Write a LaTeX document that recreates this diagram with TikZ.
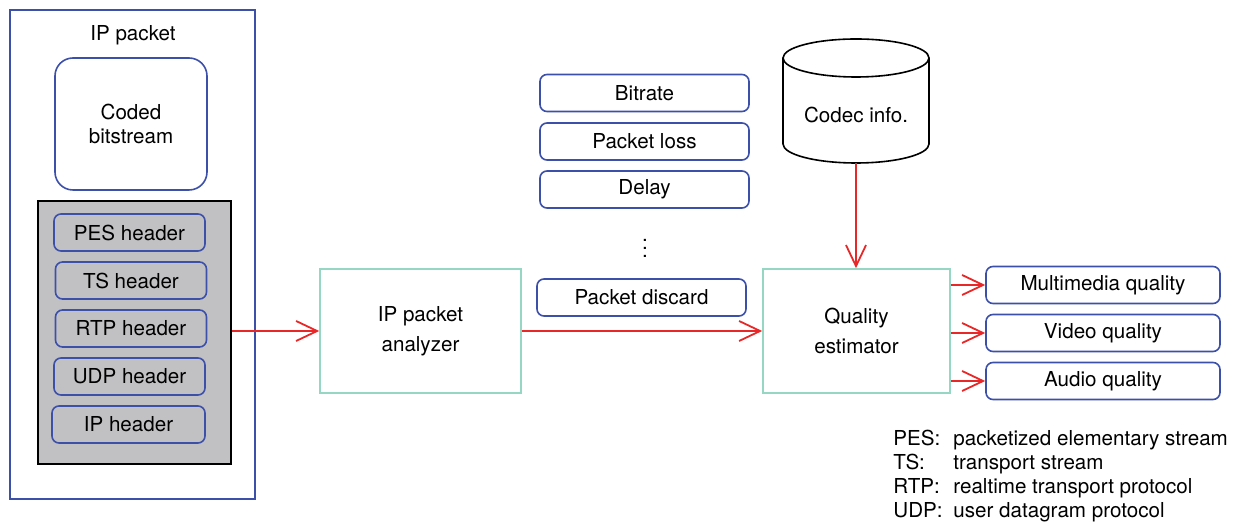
\documentclass[tikz,border=0pt]{standalone}
\usepackage{fontspec}
\setmainfont{TeX Gyre Heros}
\usepackage{tikz}
\usetikzlibrary{arrows.meta}
\definecolor{boxblue}{RGB}{60,80,170}
\definecolor{procgreen}{RGB}{150,215,195}
\definecolor{flowred}{RGB}{232,40,40}
\definecolor{hdrgray}{RGB}{193,193,196}

\begin{document}
\begin{tikzpicture}[x=0.5pt,y=-0.5pt,font=\fontsize{10.3}{12}\selectfont]
					\tikzstyle{param}=[draw=boxblue,line width=0.8pt,rounded corners=3.5pt,minimum height=18.5pt,inner sep=0pt]
					\tikzstyle{proc}=[draw=procgreen,line width=0.8pt,minimum height=62pt,align=center,inner sep=0pt]
					\tikzstyle{flow}=[draw=flowred,line width=0.9pt,-{Straight Barb[length=10.5pt,width=10pt]}]
					\useasboundingbox (0,0) rectangle (1236,522);
					% IP packet
					\node[draw=boxblue,line width=0.8pt,minimum width=122.5pt,minimum height=244.5pt](ippkt) at (132.5,254.5) {};
					\node(ipttl) at (133,35) {IP packet};
					\node[draw=boxblue,line width=0.8pt,rounded corners=9pt,minimum width=76pt,minimum height=66pt,align=center](coded) at (131,124) {Coded\\bitstream};
					\node[draw=black,fill=hdrgray,line width=0.8pt,minimum width=96.5pt,minimum height=131.5pt](hdrbox) at (134.5,332.5) {};
					\node[param,minimum width=75.5pt](pes) at (129.5,232.5) {PES header};
					\node[param,minimum width=75.5pt](ts) at (131,280.5) {TS header};
					\node[param,minimum width=75.5pt](rtp) at (131,328.5) {RTP header};
					\node[param,minimum width=75.5pt](udp) at (129.5,376.5) {UDP header};
					\node[param,minimum width=76.5pt](iph) at (128.5,424.5) {IP header};
					% analyzer and parameters
					\node[proc,minimum width=100.5pt](analyzer) at (420.5,331) {IP packet\\[3pt]analyzer};
					\node[param,minimum width=104.5pt](bitrate) at (644.5,93) {Bitrate};
					\node[param,minimum width=104.5pt](loss) at (644.5,141.5) {Packet loss};
					\node[param,minimum width=104.5pt](delay) at (644.5,189.5) {Delay};
					\node(dots) at (645,242) {$\vdots$};
					\node[param,minimum width=104.5pt](discard) at (641.5,297.5) {Packet discard};
					% codec database
					\node[minimum width=73pt,minimum height=62pt,inner sep=0pt](codec) at (856,101) {};
					\draw[line width=0.8pt] (856,58) ellipse [x radius=36.5pt,y radius=9.5pt];
					\draw[line width=0.8pt] (783,58) -- (783,144) arc[start angle=180,end angle=360,x radius=36.5pt,y radius=9.5pt] -- (929,58);
					\node(codectxt) at (856,115) {Codec info.};
					% estimator
					\node[proc,minimum width=93.5pt](estimator) at (856.5,331) {Quality\\[3pt]estimator};
					\node[param,minimum width=117pt](mmq) at (1103,285) {Multimedia quality};
					\node[param,minimum width=117pt](vq) at (1103,333) {Video quality};
					\node[param,minimum width=117pt](aq) at (1103,381) {Audio quality};
					\node[anchor=west,inner sep=0pt](legend) at (893,477) {\begin{tabular}{@{}p{30pt}@{}l@{}}
						PES: & packetized elementary stream\\
						TS: & transport stream\\
						RTP: & realtime transport protocol\\
						UDP: & user datagram protocol
					\end{tabular}};
					\draw[flow] (hdrbox.east |- analyzer.west) -- (analyzer.west);
					\draw[flow] (analyzer) -- (estimator);
					\draw[flow] (codec.south) -- (codec.south |- estimator.north);
					\draw[flow] (estimator.east |- mmq) -- (mmq.west);
					\draw[flow] (estimator.east |- vq) -- (vq.west);
					\draw[flow] (estimator.east |- aq) -- (aq.west);
				\end{tikzpicture}
\end{document}
